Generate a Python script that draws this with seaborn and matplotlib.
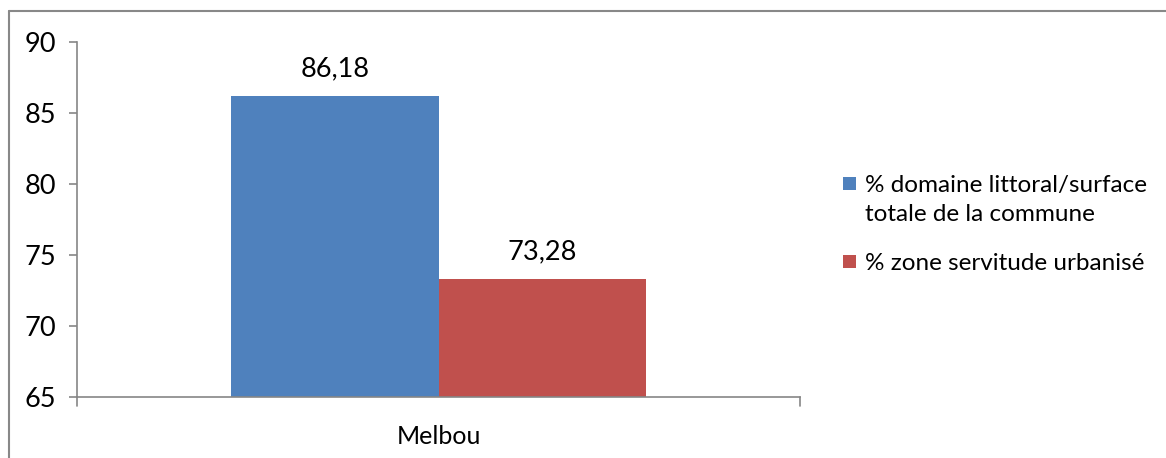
import matplotlib
matplotlib.use("Agg")
import matplotlib.pyplot as plt
import seaborn as sns
import pandas as pd
from matplotlib.lines import Line2D
from matplotlib.patches import Rectangle

categories = ["Melbou"]
series = ["% domaine littoral/surface\ntotale de la commune", "% zone servitude urbanisé"]
values = [86.18, 73.28]
value_labels = ["86,18", "73,28"]
colors = ["#4F81BD", "#C0504D"]
yticks = [65, 70, 75, 80, 85, 90]

sns.set_theme(style="white")
plt.rcParams["font.family"] = ["Lato", "DejaVu Sans"]

df = pd.DataFrame({"cat": categories * len(series), "series": series, "value": values})

W, H, DPI = 1166, 458, 100
fig = plt.figure(figsize=(W / DPI, H / DPI), dpi=DPI)
ax = fig.add_axes([77 / W, 1 - 397 / H, (800 - 77) / W, (397 - 42) / H])

sns.barplot(data=df, x="cat", y="value", hue="series", palette=colors,
            width=0.573, gap=0, dodge=True, saturation=1, ax=ax, legend=False,
            linewidth=0, edgecolor="none")

ax.set_ylim(65, 90)
ax.set_xlim(-0.5, 0.5)
ax.set_yticks(yticks)
ax.set_yticklabels([str(t) for t in yticks])
ax.set_xlabel("")
ax.set_ylabel("")

for c, lab in zip(ax.containers, value_labels):
    ax.bar_label(c, labels=[lab], padding=11, fontsize=19.5, color="black")

for s in ["top", "right"]:
    ax.spines[s].set_visible(False)
for s in ["left", "bottom"]:
    ax.spines[s].set_color("#868686")
    ax.spines[s].set_linewidth(1.2)

ax.tick_params(axis="y", which="both", left=True, length=6, width=1.2, color="#868686",
               labelsize=19.5, labelcolor="black", pad=9, direction="out")
ax.tick_params(axis="x", bottom=False, labelsize=18, labelcolor="black", pad=14)

# x-axis category boundary ticks
for xb in [-0.5, 0.5]:
    ax.plot([xb, xb], [0, -0.025], transform=ax.get_xaxis_transform(),
            color="#868686", lw=1.2, clip_on=False)

# legend (square aligned with first text line, as in the source chart)
leg_y = [183, 261]  # px from top: square centres
for col, lab, yc in zip(colors, series, leg_y):
    fig.add_artist(Rectangle((843 / W, 1 - (yc + 6.5) / H), 13 / W, 13 / H,
                             transform=fig.transFigure, facecolor=col, edgecolor="none"))
    fig.text(865 / W, 1 - (yc - 8) / H, lab, ha="left", va="top", fontsize=17.5,
             color="black", linespacing=1.45)

# outer chart border (top and left visible)
fig.add_artist(Line2D([9 / W, 1.0], [1 - 11 / H, 1 - 11 / H], color="#888888", lw=1.5,
                      transform=fig.transFigure))
fig.add_artist(Line2D([9 / W, 9 / W], [0, 1 - 11 / H], color="#888888", lw=1.5,
                      transform=fig.transFigure))

fig.savefig("out.png", dpi=DPI, facecolor="white")
